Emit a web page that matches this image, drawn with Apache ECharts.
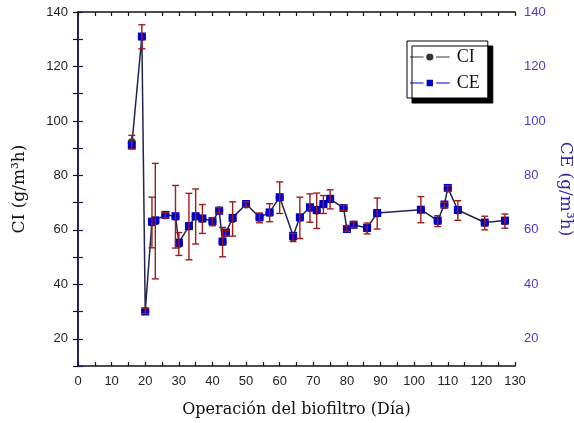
<!DOCTYPE html>
<html>
<head>
<meta charset="utf-8">
<script src="https://cdn.jsdelivr.net/npm/echarts@6/dist/echarts.min.js"></script>
<style>
  html, body { margin: 0; padding: 0; background: #fff; }
  #chart { width: 574px; height: 423px; }
</style>
</head>
<body>
<div id="chart"></div>
<script>
// días de operación
var days = [16, 19, 20, 22, 23, 26, 29, 30, 33, 35, 37, 40, 42, 43, 44, 46, 50, 54, 57, 60,
  64, 66, 69, 71, 73, 75, 79, 80, 82, 86, 89, 102, 107, 109, 110, 113, 121, 127]
// carga de entrada CI (g/m3h)
var ciValues = [92.2, 130.9, 30.2, 62.7, 63.2, 65.4, 64.8, 54.8, 61.2, 64.9, 64.0, 63.0, 67.2, 55.5, 58.8, 64.0, 69.3, 64.4, 66.3, 71.8,
  57.2, 64.4, 68.0, 67.0, 69.3, 71.2, 68.0, 60.5, 61.9, 60.5, 66.0, 67.4, 63.2, 69.1, 75.2, 67.1, 62.5, 63.2]
// error de CI (+/-)
var ciErr = [2.5, 4.4, 1, 9.3, 21.2, 1, 11.5, 4.2, 12.2, 10.1, 5.3, 1.5, 1, 5.4, 1, 6.3, 1, 1.8, 3.3, 5.8,
  1.5, 7.6, 5.2, 6.5, 3.3, 3.5, 1, 1, 1, 2, 5.7, 4.8, 2, 1, 1, 3.6, 2.5, 2.6]
// capacidad de eliminación CE (g/m3h)
var ceValues = [91, 131, 30, 63, 63.5, 65.5, 65, 55.3, 61.4, 65, 64.2, 63.2, 67, 55.7, 59, 64.4, 69.5, 64.6, 66.4, 72,
  57.8, 64.6, 68.3, 67.3, 69.5, 71.4, 68, 60.3, 61.9, 60.7, 66.2, 67.4, 63.4, 69.3, 75.4, 67.3, 62.7, 63.4]

var chart = echarts.init(document.getElementById('chart'))

var ciData = days.map(function (d, i) { return [d, ciValues[i]] })
var ceData = days.map(function (d, i) { return [d, ceValues[i]] })
var errData = days.map(function (d, i) { return [d, ciValues[i] - ciErr[i], ciValues[i] + ciErr[i]] })

var labelFont = { fontFamily: 'Liberation Sans', fontSize: 13 }
var evenLabel = function (v) { return v % 20 === 0 ? v : '' }

chart.setOption({
  animation: false,
  backgroundColor: '#fff',
  grid: { left: 78, right: 59, top: 12, bottom: 57, outerBoundsMode: 'none', containLabel: false },
  legend: {
    orient: 'vertical',
    left: 407,
    top: 41,
    padding: [7, 8, 6, 3],
    itemGap: 8,
    itemWidth: 44,
    itemHeight: 9,
    backgroundColor: '#fff',
    borderColor: '#000',
    borderWidth: 1,
    borderRadius: 0,
    shadowColor: '#000',
    shadowBlur: 0,
    shadowOffsetX: 5,
    shadowOffsetY: 5,
    textStyle: { fontFamily: 'Liberation Serif', fontSize: 18, color: '#111' },
    data: [
      { name: 'CI', icon: 'path://M0,4.5L15,4.5L15,5.5L0,5.5Z M29,4.5L44,4.5L44,5.5L29,5.5Z M18,5A4,4 0 1 1 26,5A4,4 0 1 1 18,5Z M22,0L22.01,0L22.01,10L22,10Z' },
      { name: 'CE', icon: 'path://M0,4.5L15,4.5L15,5.5L0,5.5Z M29,4.5L44,4.5L44,5.5L29,5.5Z M18.5,1.5L25.5,1.5L25.5,8.5L18.5,8.5Z M22,0L22.01,0L22.01,10L22,10Z' }
    ]
  },
  xAxis: [
    {
      type: 'value',
      min: 0,
      max: 130,
      interval: 5,
      name: 'Operación del biofiltro (Día)',
      nameLocation: 'middle',
      nameGap: 36,
      nameTextStyle: { fontFamily: 'DejaVu Serif', fontSize: 16, color: '#111' },
      axisLine: { lineStyle: { color: '#111', width: 1.5 } },
      axisTick: { inside: true, length: 4, lineStyle: { color: '#111', width: 1.2 } },
      axisLabel: Object.assign({ color: '#222', margin: 9, formatter: function (v) { return v % 10 === 0 ? v : '' } }, labelFont),
      splitLine: { show: false }
    },
    {
      type: 'value',
      position: 'top',
      min: 0,
      max: 130,
      interval: 5,
      axisLine: { lineStyle: { color: '#111', width: 1.5 } },
      axisTick: { inside: true, length: 4, lineStyle: { color: '#111', width: 1.2 } },
      axisLabel: { show: false },
      splitLine: { show: false }
    }
  ],
  yAxis: [
    {
      type: 'value',
      min: 10,
      max: 140,
      interval: 10,
      name: 'CI (g/m³h)',
      nameLocation: 'middle',
      nameGap: 50,
      nameTextStyle: { fontFamily: 'DejaVu Serif', fontSize: 17, color: '#111' },
      axisLine: { show: true, lineStyle: { color: '#111', width: 1.5 } },
      axisTick: { show: true, length: 5, lineStyle: { color: '#111', width: 1.2 } },
      axisLabel: Object.assign({ color: '#222', margin: 10, formatter: evenLabel }, labelFont),
      splitLine: { show: false }
    },
    {
      type: 'value',
      position: 'right',
      min: 10,
      max: 140,
      interval: 10,
      name: 'CE (g/m³h)',
      nameLocation: 'middle',
      nameGap: 41,
      nameRotate: -90,
      nameTextStyle: { fontFamily: 'DejaVu Serif', fontSize: 17, color: '#3328a8' },
      axisLine: { show: true, lineStyle: { color: '#1a1a5a', width: 1.5 } },
      axisTick: { show: true, length: 5, lineStyle: { color: '#1a1a5a', width: 1.2 } },
      axisLabel: Object.assign({ color: '#4b3cc8', margin: 9, formatter: evenLabel }, labelFont),
      splitLine: { show: false }
    }
  ],
  series: [
    {
      name: 'CI',
      type: 'scatter',
      symbol: 'circle',
      symbolSize: 8,
      itemStyle: { color: '#000' },
      data: ciData,
      z: 3
    },
    {
      name: 'CE',
      type: 'line',
      symbol: 'rect',
      symbolSize: 8,
      showAllSymbol: true,
      lineStyle: { color: '#23234f', width: 1.5 },
      itemStyle: { color: '#0000c8' },
      data: ceData,
      z: 4
    },
    {
      name: 'errCI',
      type: 'custom',
      renderItem: function (params, api) {
        var lo = api.coord([api.value(0), api.value(1)])
        var hi = api.coord([api.value(0), api.value(2)])
        var w = 3.5
        var st = { stroke: '#a01c1c', lineWidth: 1.4 }
        return {
          type: 'group',
          children: [
            { type: 'line', shape: { x1: lo[0], y1: lo[1], x2: hi[0], y2: hi[1] }, style: st },
            { type: 'line', shape: { x1: lo[0] - w, y1: lo[1], x2: lo[0] + w, y2: lo[1] }, style: st },
            { type: 'line', shape: { x1: hi[0] - w, y1: hi[1], x2: hi[0] + w, y2: hi[1] }, style: st }
          ]
        }
      },
      encode: { x: 0, y: [1, 2] },
      data: errData,
      z: 5
    }
  ]
})
</script>
</body>
</html>
